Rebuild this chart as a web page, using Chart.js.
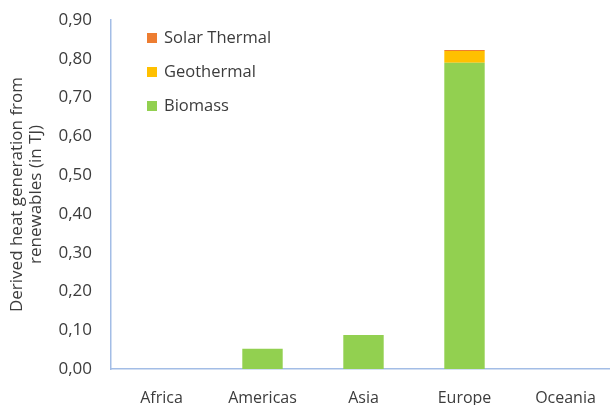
<!DOCTYPE html>
<html lang="en">
<head>
  <meta charset="UTF-8">
  <title>Derived heat generation from renewables</title>
  <script src="https://cdn.jsdelivr.net/npm/chart.js"></script>
  <style>
    html, body { margin: 0; padding: 0; background: #fff; overflow: hidden; }
  </style>
</head>
<body>
  <canvas id="myChart" width="616" height="405"></canvas>

  <script>
    // values (TJ)
    const regions = ['Africa', 'Americas', 'Asia', 'Europe', 'Oceania'];
    const biomass = [0, 0.052, 0.088, 0.79, 0];
    const geothermal = [0, 0, 0, 0.03, 0];
    const solarThermal = [0, 0, 0, 0.0025, 0];
    const yTicks = [0, 0.1, 0.2, 0.3, 0.4, 0.5, 0.6, 0.7, 0.8, 0.9];

    const textColor = '#3c3c3c';
    const fontFamily = '"Open Sans", Lato, sans-serif';

    // legend drawn inside the plot, top-left, listed top series first
    const innerLegend = {
      id: 'innerLegend',
      afterDraw(chart) {
        const ctx = chart.ctx;
        const sets = chart.data.datasets.slice().reverse();
        ctx.save();
        ctx.font = '16.5px ' + fontFamily;
        ctx.textBaseline = 'middle';
        sets.forEach((ds, i) => {
          const y = 38 + i * 34;
          ctx.fillStyle = ds.backgroundColor;
          ctx.fillRect(147, y - 5, 10, 10);
          ctx.fillStyle = textColor;
          ctx.fillText(ds.label, 164, y);
        });
        ctx.restore();
      }
    };

    var ctx = document.getElementById('myChart').getContext('2d');
    var myChart = new Chart(ctx, {
      type: 'bar',
      data: {
        labels: regions,
        datasets: [
          { label: 'Biomass', data: biomass, backgroundColor: '#92d050' },
          { label: 'Geothermal', data: geothermal, backgroundColor: '#ffc000' },
          { label: 'Solar Thermal', data: solarThermal, backgroundColor: '#ed7d31' }
        ]
      },
      options: {
        responsive: false,
        animation: false,
        layout: { padding: { left: 8, top: 20, right: 0, bottom: 0 } },
        datasets: {
          bar: { categoryPercentage: 1, barPercentage: 0.4 }
        },
        plugins: {
          legend: { display: false },
          tooltip: { enabled: false }
        },
        scales: {
          x: {
            stacked: true,
            grid: { display: false, drawTicks: false },
            border: { display: true, color: '#a3bde6', width: 1.5 },
            ticks: { color: textColor, padding: 20, font: { family: fontFamily, size: 16 } },
            afterFit: axis => { axis.height = 36; }
          },
          y: {
            stacked: true,
            min: 0,
            max: 0.9,
            afterBuildTicks: axis => { axis.ticks = yTicks.map(v => ({ value: v })); },
            grid: { display: false, drawTicks: false },
            border: { display: true, color: '#a3bde6', width: 1.5 },
            ticks: {
              color: textColor,
              padding: 19,
              font: { family: fontFamily, size: 17 },
              callback: v => v.toFixed(2).replace('.', ',')
            },
            title: {
              display: true,
              text: ['Derived heat generation from', 'renewables (in TJ)'],
              color: textColor,
              font: { family: fontFamily, size: 17, lineHeight: 1.12 },
              padding: { top: 0, bottom: 0 }
            },
            afterFit: axis => {
              axis.width = 103;
              axis.paddingTop = 0;
              axis.paddingBottom = 0;
            }
          }
        }
      },
      plugins: [innerLegend]
    });
  </script>
</body>
</html>
